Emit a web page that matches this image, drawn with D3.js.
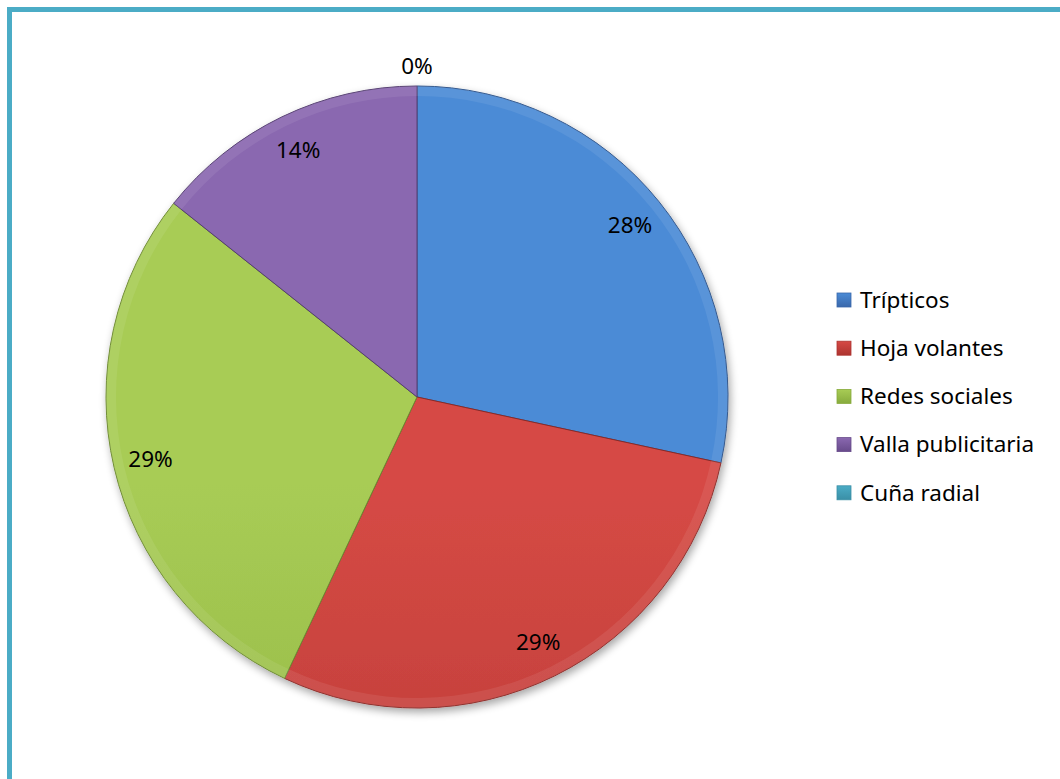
<!DOCTYPE html>
<html>
<head>
<meta charset="utf-8">
<script src="https://cdn.jsdelivr.net/npm/d3@7"></script>
<style>
  body { margin: 0; background: #fff; }
  text { font-family: "Noto Sans", "Open Sans", sans-serif; }
</style>
</head>
<body>
<svg width="1060" height="779"></svg>
<script>
// chart data
const categories = ["Trípticos", "Hoja volantes", "Redes sociales", "Valla publicitaria", "Cuña radial"];
const values = [28.4, 28.6, 28.7, 14.3, 0];
const topColors = ["#4b8bd6", "#d64a45", "#a8cc55", "#8a68b0", "#4bacc6"];
const bottomColors = ["#3a68ab", "#ad3430", "#87ab3d", "#684b8b", "#3a8fa6"];

let svg = d3.select("svg");
let width = +svg.attr("width");
let height = +svg.attr("height");

let cx = 417, cy = 397, radius = 311;

let defs = svg.append("defs");

categories.forEach((c, i) => {
    let g = defs.append("linearGradient")
        .attr("id", "grad" + i)
        .attr("gradientUnits", "userSpaceOnUse")
        .attr("x1", 0).attr("y1", cy - radius)
        .attr("x2", 0).attr("y2", cy + radius);
    g.append("stop").attr("offset", "0%").attr("stop-color", topColors[i]);
    g.append("stop").attr("offset", "100%").attr("stop-color", bottomColors[i]);

    // legend swatch gradient
    let lg = defs.append("linearGradient")
        .attr("id", "lgrad" + i)
        .attr("x1", 0).attr("y1", 0).attr("x2", 0).attr("y2", 1);
    lg.append("stop").attr("offset", "0%").attr("stop-color", topColors[i]);
    lg.append("stop").attr("offset", "100%").attr("stop-color", bottomColors[i]);
});

let shadow = defs.append("filter")
    .attr("id", "shadow")
    .attr("x", "-10%").attr("y", "-10%")
    .attr("width", "130%").attr("height", "130%");
shadow.append("feGaussianBlur").attr("in", "SourceAlpha").attr("stdDeviation", 4).attr("result", "blur");
shadow.append("feOffset").attr("in", "blur").attr("dx", 2).attr("dy", 4).attr("result", "off");
shadow.append("feComponentTransfer").attr("in", "off").attr("result", "soft")
    .append("feFuncA").attr("type", "linear").attr("slope", 0.35);
let merge = shadow.append("feMerge");
merge.append("feMergeNode").attr("in", "soft");
merge.append("feMergeNode").attr("in", "SourceGraphic");

// outer frame
svg.append("rect")
    .attr("x", 9.5).attr("y", 9.5)
    .attr("width", width + 20).attr("height", height + 20)
    .attr("fill", "none")
    .attr("stroke", "#4bacc6")
    .attr("stroke-width", 5);

let data = categories.map((c, i) => ({ name: c, value: values[i], idx: i }));

let pie = d3.pie()
    .sort(null)
    .value(d => d.value);

let arcs = pie(data);

let arc = d3.arc().innerRadius(0).outerRadius(radius);
let bevelArc = d3.arc().innerRadius(radius - 10).outerRadius(radius);
let labelArc = d3.arc().innerRadius(radius * 0.88).outerRadius(radius * 0.88);
let outerLabelArc = d3.arc().innerRadius(radius + 20).outerRadius(radius + 20);

let g = svg.append("g").attr("transform", `translate(${cx},${cy})`);

let pieG = g.append("g").attr("filter", "url(#shadow)");

pieG.selectAll("path.slice")
    .data(arcs.filter(d => d.value > 0))
    .enter().append("path")
    .attr("class", "slice")
    .attr("d", arc)
    .attr("fill", d => `url(#grad${d.data.idx})`)
    .attr("stroke", d => d3.color(bottomColors[d.data.idx]).darker(0.6))
    .attr("stroke-width", 1);

// light bevel along the outer rim
g.selectAll("path.bevel")
    .data(arcs.filter(d => d.value > 0))
    .enter().append("path")
    .attr("class", "bevel")
    .attr("d", bevelArc)
    .attr("fill", "#fff")
    .attr("opacity", 0.08);

g.selectAll("text.label")
    .data(arcs)
    .enter().append("text")
    .attr("class", "label")
    .attr("transform", d => `translate(${(d.value > 0 ? labelArc : outerLabelArc).centroid(d)})`)
    .attr("text-anchor", "middle")
    .attr("dy", "0.35em")
    .style("font-size", "22.5px")
    .attr("fill", "#000")
    .text(d => Math.round(d.value) + "%");

// legend
let legend = svg.append("g").attr("transform", "translate(837,300)");
let rows = legend.selectAll("g.row")
    .data(data)
    .enter().append("g")
    .attr("class", "row")
    .attr("transform", (d, i) => `translate(0,${i * 48.2})`);

rows.append("rect")
    .attr("x", 0).attr("y", -7)
    .attr("width", 14).attr("height", 14)
    .attr("fill", d => `url(#lgrad${d.idx})`)
    .attr("stroke", d => bottomColors[d.idx])
    .attr("stroke-width", 0.8);

rows.append("text")
    .attr("x", 23)
    .attr("dy", "0.35em")
    .style("font-size", "22.5px")
    .attr("fill", "#000")
    .text(d => d.name);
</script>
</body>
</html>
